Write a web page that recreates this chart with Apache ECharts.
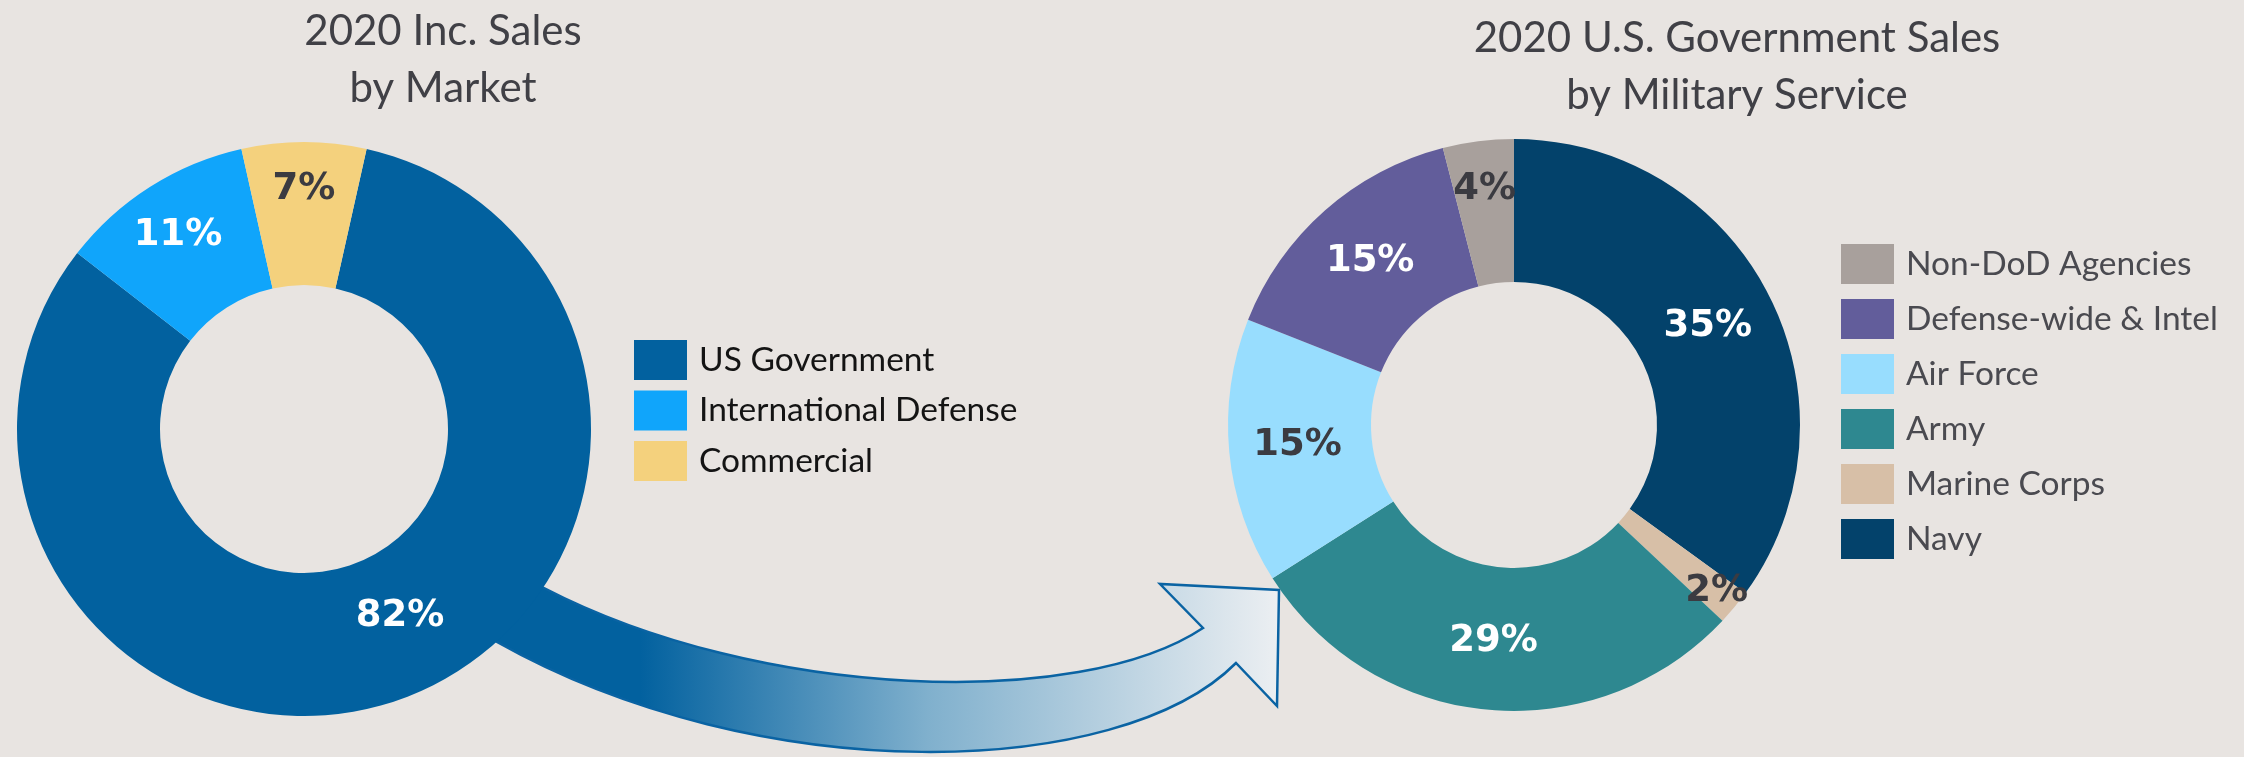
<!DOCTYPE html>
<html>
<head>
<meta charset="utf-8">
<script src="https://cdn.jsdelivr.net/npm/echarts@6/dist/echarts.min.js"></script>
<style>
html,body{margin:0;padding:0;background:#e8e4e1;}
#c{width:2244px;height:757px;}
</style>
</head>
<body>
<div id="c"></div>
<script>
// ---- data ----
const marketCategories = ['US Government', 'International Defense', 'Commercial'];
const marketValues = [82, 11, 7];
const serviceCategories = ['Navy', 'Marine Corps', 'Army', 'Air Force', 'Defense-wide & Intel', 'Non-DoD Agencies'];
const serviceValues = [35, 2, 29, 15, 15, 4];
const serviceLegendOrder = ['Non-DoD Agencies', 'Defense-wide & Intel', 'Air Force', 'Army', 'Marine Corps', 'Navy'];
const leftTitleText = '2020 Inc. Sales\nby Market';
const rightTitleText = '2020 U.S. Government Sales\nby Military Service';

// ---- styles ----
const sliceColors = {
  'US Government': '#02619f',
  'International Defense': '#10a5fb',
  'Commercial': '#f4d17d',
  'Navy': '#03426b',
  'Marine Corps': '#d7bfa7',
  'Army': '#2e8890',
  'Air Force': '#98ddfe',
  'Defense-wide & Intel': '#625d9b',
  'Non-DoD Agencies': '#a8a09c'
};
const DARK = '#3b3b41';
const labelColors = {
  'US Government': '#ffffff',
  'International Defense': '#ffffff',
  'Commercial': DARK,
  'Navy': '#ffffff',
  'Marine Corps': DARK,
  'Army': '#ffffff',
  'Air Force': DARK,
  'Defense-wide & Intel': '#ffffff',
  'Non-DoD Agencies': DARK
};
const labelNudge = {
  'US Government': [22, -18],
  'International Defense': [-9, -9],
  'Commercial': [0, -21],
  'Marine Corps': [35, 28],
  'Non-DoD Agencies': [-2, -20]
};

function buildData(names, values) {
  return names.map((n, i) => ({
    name: n,
    value: values[i],
    itemStyle: { color: sliceColors[n] },
    label: Object.assign({ color: labelColors[n] }, labelNudge[n] ? { offset: labelNudge[n] } : {})
  }));
}

const labelStyle = {
  show: true,
  position: 'inside',
  formatter: '{c}%',
  fontFamily: 'DejaVu Sans',
  fontWeight: 'bold',
  fontSize: 37,
  textBorderWidth: 0,
  textShadowBlur: 0
};

const titleStyle = {
  fontFamily: 'Lato',
  fontWeight: 'normal',
  fontSize: 42,
  lineHeight: 57,
  color: '#404046'
};

const legendCommon = {
  orient: 'vertical',
  icon: 'rect',
  itemWidth: 53,
  itemHeight: 40,
  selectedMode: false,
  padding: 0
};

const ARROW_PATH = 'M 473 551 L 544 588 C 760 700 1080 710 1203 628 L 1160 584 L 1279 590 L 1277 706 L 1236 663 C 1120 780 760 790 497 642 L 427 603 Z';

const chart = echarts.init(document.getElementById('c'), null, { renderer: 'canvas' });

const option = {
  backgroundColor: '#e8e4e1',
  animation: false,
  title: [
    { text: leftTitleText, left: 443, top: 3, textAlign: 'center', padding: 0, textStyle: titleStyle },
    { text: rightTitleText, left: 1737, top: 10, textAlign: 'center', padding: 0, textStyle: titleStyle }
  ],
  legend: [
    Object.assign({}, legendCommon, {
      data: marketCategories,
      left: 634, top: 340,
      itemGap: 10.5,
      textStyle: { fontFamily: 'Lato', fontSize: 33.5, color: '#141414', padding: [0, 0, 0, 7] }
    }),
    Object.assign({}, legendCommon, {
      data: serviceLegendOrder,
      left: 1841, top: 244,
      itemGap: 15,
      textStyle: { fontFamily: 'Lato', fontSize: 33.5, color: '#4a4a50', padding: [0, 0, 0, 7] }
    })
  ],
  series: [
    {
      type: 'custom',
      coordinateSystem: 'none',
      z: 1,
      silent: true,
      data: [[0]],
      renderItem: function () {
        return {
          type: 'path',
          shape: { pathData: ARROW_PATH },
          style: {
            fill: new echarts.graphic.LinearGradient(640, 0, 1280, 0, [
              { offset: 0, color: '#02619f' },
              { offset: 0.45, color: '#80b0cd' },
              { offset: 1, color: '#eceff2' }
            ], true),
            stroke: '#0a63a3',
            lineWidth: 2.5
          }
        };
      }
    },
    {
      type: 'pie',
      z: 2,
      center: [304, 429],
      radius: [144, 287],
      startAngle: 77.4,
      clockwise: true,
      avoidLabelOverlap: false,
      itemStyle: { borderWidth: 0 },
      label: labelStyle,
      labelLine: { show: false },
      emphasis: { disabled: true },
      data: buildData(marketCategories, marketValues)
    },
    {
      type: 'pie',
      z: 2,
      center: [1514, 425],
      radius: [143, 286],
      startAngle: 90,
      clockwise: true,
      avoidLabelOverlap: false,
      itemStyle: { borderWidth: 0 },
      label: labelStyle,
      labelLine: { show: false },
      emphasis: { disabled: true },
      data: buildData(serviceCategories, serviceValues)
    }
  ]
};
chart.setOption(option);
</script>
</body>
</html>
